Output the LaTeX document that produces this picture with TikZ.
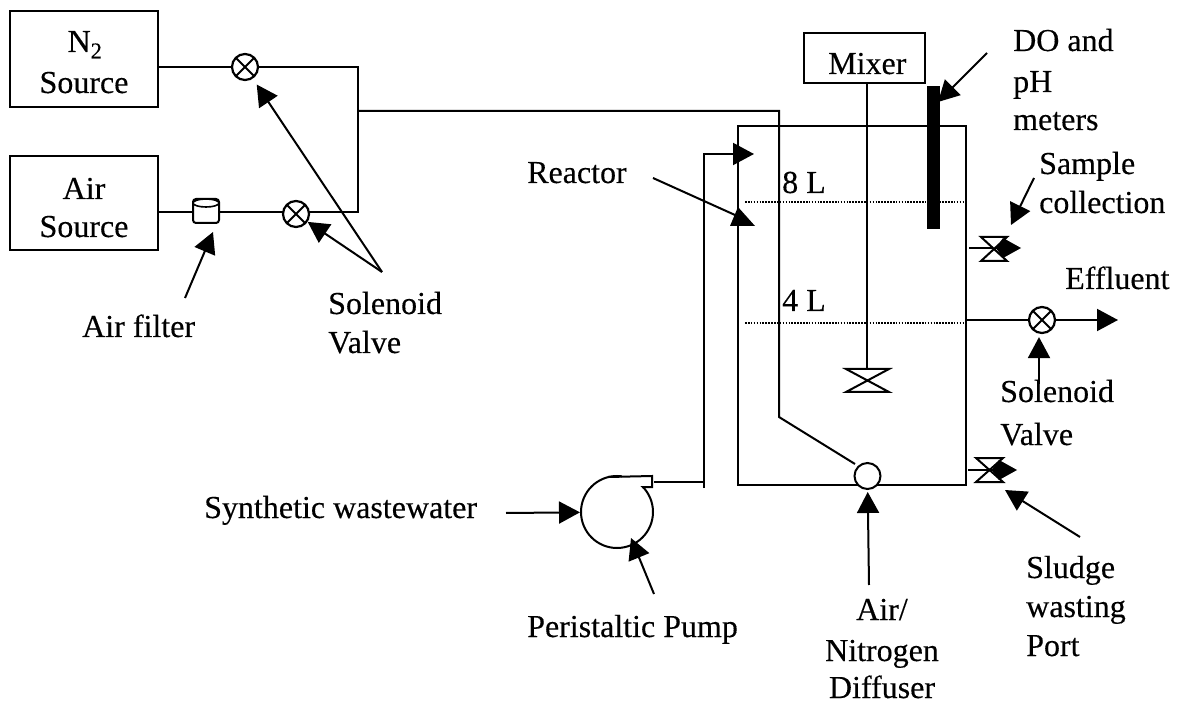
\documentclass[tikz,border=0pt]{standalone}
\usepackage{fontspec}
\setmainfont[FakeBold=0.3]{Liberation Serif}
\usetikzlibrary{arrows.meta,calc}
\tikzset{
  x=1pt,y=-1pt,
  pipe/.style={line width=2pt,line join=miter},
  arr/.style={line width=2pt,-{Triangle[length=21pt,width=22pt]}},
  box/.style={draw,line width=2pt,inner sep=0pt},
  txt/.style={font=\fontsize{32}{36}\selectfont,inner sep=0pt,anchor=base},
  txtl/.style={txt,anchor=base west},
  dots/.style={line width=1.6pt,dash pattern=on 1.6pt off 1.3pt},
  valve/.style={draw,circle,line width=2.2pt,minimum size=26pt,inner sep=0pt,fill=white,
    path picture={\draw[line width=2pt] (path picture bounding box.north west)--(path picture bounding box.south east)
      (path picture bounding box.north east)--(path picture bounding box.south west);}},
}
\begin{document}
\begin{tikzpicture}
\useasboundingbox (0,0) rectangle (1184,703);
% sources
\node[box,minimum width=148pt,minimum height=96pt] (n2) at (84,59) {};
\node[txt] (n2t) at (85,52) {N\textsubscript{2}};
\node[txt] (n2s) at (84,93) {Source};
\node[box,minimum width=148pt,minimum height=94pt] (air) at (84,203) {};
\node[txt] (airt) at (84,199) {Air};
\node[txt] (airs) at (84,237) {Source};
% gas lines
\coordinate (j1) at (358,67);
\coordinate (j2) at (358,212);
\coordinate (j3) at (358,111);
\coordinate (j4) at (779,111);
\coordinate (j5) at (779,417);
\coordinate (j6) at (855,464);
\draw[pipe] (n2.east|-j1) -- (j1) -- (j2) -- (air.east|-j2);
\draw[pipe] (j3) -- (j4) -- (j5) -- (j6);
\node[valve] (v1) at (245,67) {};
\node[valve] (v2) at (296,214) {};
% filter
\node[draw,line width=2pt,fill=white,minimum width=26pt,minimum height=24pt,rounded corners=3pt,inner sep=0pt] (flt) at (206,211) {};
\draw[line width=1.6pt,fill=white] (206,203) ellipse (13 and 4);
% labels left
\coordinate (af) at (185,298);
\coordinate (afin) at (213,232);
\draw[arr] (af) -- (afin);
\node[txtl] (aft) at (82,337) {Air filter};
\coordinate (sv) at (382,272);
\draw[arr,shorten >=7pt] (sv) -- (v1);
\draw[arr] (sv) -- (v2);
\node[txtl] (svt) at (328,314) {Solenoid};
\node[txtl] (svt2) at (328,353) {Valve};
% reactor
\coordinate (f1) at (704,488);
\coordinate (f2) at (704,154);
\coordinate (f3) at (754,154);
\draw[arr] (f1) -- (f2) -- (f3);
\node[draw,line width=2pt,inner sep=0pt,minimum width=228pt,minimum height=358pt] (rc) at (852,305.5) {};
\draw[dots] (745,202) -- (966,202);
\draw[dots] (745,323) -- (966,323);
\node[txtl] (l8) at (782,193) {8 L};
\node[txtl] (l4) at (782,311) {4 L};
\coordinate (rr) at (653,178);
\coordinate (rrin) at (735,215);
\draw[line width=2pt] (rr) -- (rrin);
\fill (738,207) -- (755,226) -- (730,226) -- cycle;
\node[txtl] (rt) at (527,183) {Reactor};
% mixer
\node[box,minimum width=121pt,minimum height=50pt] (mx) at (864.5,58) {};
\node[txtl] (mxt) at (828,74) {Mixer};
\coordinate (sh) at (867,381);
\draw[line width=2pt] (sh|-mx.south) -- (sh);
\draw[line width=2pt,line join=miter,fill=white] (846,369)--(889,369)--(846,392)--(889,392)--cycle;
% meter
\node[fill=black,inner sep=0pt,minimum width=13pt,minimum height=143pt] (mt) at (933.5,157.5) {};
\coordinate (dm) at (987,53);
\coordinate (dmin) at (938,102);
\draw[arr] (dm) -- (dmin);
\node[txtl] (do1) at (1013,51) {DO and};
\node[txtl] (do2) at (1013,92) {pH};
\node[txtl] (do3) at (1013,130) {meters};
% sample
\node[txtl] (st1) at (1039,174) {Sample};
\node[txtl] (st2) at (1039,213) {collection};
\coordinate (sa) at (1034,178);
\coordinate (sain) at (1011,225);
\draw[arr] (sa) -- (sain);
\draw[line width=2pt] (969,248) -- (1005,248);
\draw[line width=2pt,line join=miter,fill=white] (981,237)--(1007,237)--(981,261)--(1007,261)--cycle;
\fill (996,248)--(1003,238)--(1021,248)--(1003,258)--cycle;
% effluent
\node[txtl] (ef) at (1065,289) {Effluent};
\node[valve] (v3) at (1042,320) {};
\coordinate (ew) at (966,320);
\coordinate (eo) at (1118,320);
\draw[pipe] (ew) -- (v3);
\draw[arr] (v3) -- (eo);
\node[txtl] (sv3) at (1000,402) {Solenoid};
\node[txtl] (sv4) at (1000,445) {Valve};
\coordinate (sva) at (1039,384);
\draw[arr,shorten >=3pt] (sva) -- (sva|-v3.south);
% sludge
\draw[line width=2pt] (968,470) -- (1000,470);
\draw[line width=2pt,line join=miter,fill=white] (976,458)--(1003,458)--(976,482)--(1003,482)--cycle;
\fill (992,470)--(999,460)--(1017,470)--(999,480)--cycle;
\coordinate (sl) at (1080,537);
\coordinate (slin) at (1005,490);
\draw[arr] (sl) -- (slin);
\node[txtl] (s2) at (1026,578) {Sludge};
\node[txtl] (s3) at (1026,617) {wasting};
\node[txtl] (s4) at (1026,656) {Port};
% diffuser
\node[draw,circle,line width=2pt,fill=white,minimum size=26pt,inner sep=0pt] (df) at (867.5,476) {};
\coordinate (dfb) at (869,585);
\draw[arr,shorten >=2pt] (dfb) -- (df);
\node[txt] (d1) at (882,620) {Air/};
\node[txt] (d2) at (882,661) {Nitrogen};
\node[txt] (d3) at (882,698) {Diffuser};
% pump
\node[draw,circle,line width=2pt,minimum size=72pt,inner sep=0pt] (pc) at (617,512) {};
\fill[white] (622,472) rectangle (650,486);
\draw[line width=2pt,line join=miter] (608,477) -- (652,476) -- (652,487) -- (642,487);
\coordinate (po) at (654,482);
\draw[pipe] (po) -- (f1|-po);
\coordinate (sw) at (506,513);
\draw[arr] (sw) -- (pc);
\node[txtl] (swt) at (204,518) {Synthetic wastewater};
\coordinate (pp) at (654,594);
\coordinate (ppin) at (631,538);
\draw[arr] (pp) -- (ppin);
\node[txtl] (ppt) at (527,637) {Peristaltic Pump};
\end{tikzpicture}
\end{document}
